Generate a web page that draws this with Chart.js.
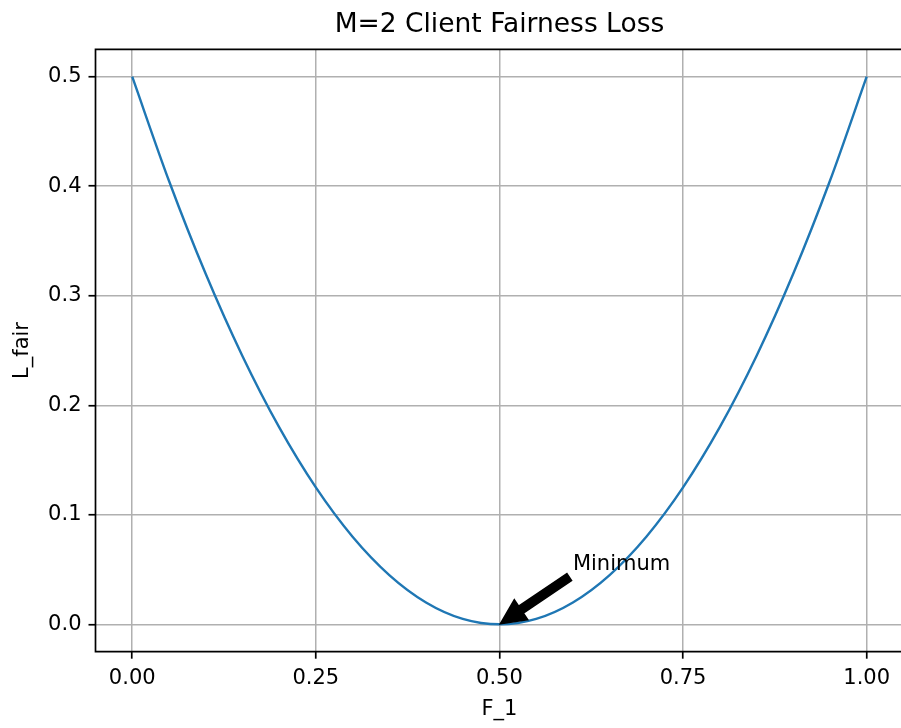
<!DOCTYPE html>
<html>
<head>
<meta charset="utf-8">
<title>M=2 Client Fairness Loss</title>
<script src="https://cdn.jsdelivr.net/npm/chart.js@4.4.1/dist/chart.umd.min.js"></script>
<style>
  html, body { margin: 0; padding: 0; background: #fff; overflow: hidden; }
  #wrap { width: 910px; height: 728px; }
</style>
</head>
<body>
<div id="wrap"><canvas id="fair-chart" width="910" height="728"></canvas></div>
<script>
// data
const fValues = [0, 0.05, 0.1, 0.15, 0.2, 0.25, 0.3, 0.35, 0.4, 0.45, 0.5,
                 0.55, 0.6, 0.65, 0.7, 0.75, 0.8, 0.85, 0.9, 0.95, 1.0];
const lossValues = [0.5, 0.405, 0.32, 0.245, 0.18, 0.125, 0.08, 0.045, 0.02, 0.005, 0,
                    0.005, 0.02, 0.045, 0.08, 0.125, 0.18, 0.245, 0.32, 0.405, 0.5];
const xTicks = [0, 0.25, 0.5, 0.75, 1.0];
const yTicks = [0, 0.1, 0.2, 0.3, 0.4, 0.5];
const minPoint = [0.5, 0];      // annotated point
const minLabelAt = [0.6, 0.05]; // where the "Minimum" text sits

Chart.defaults.font.family = 'DejaVu Sans';
Chart.defaults.color = '#000';

const GRID = '#b0b0b0';

/*==================== SPINES ====================*/
// left, top and bottom; the right one falls outside the 901px window
const spines = {
    id: 'spines',
    afterDatasetsDraw(chart) {
        const {ctx, chartArea: a} = chart;
        ctx.save();
        ctx.strokeStyle = '#000';
        ctx.lineWidth = 1.7;
        ctx.beginPath();
        ctx.moveTo(a.right + 1, a.top);
        ctx.lineTo(a.left, a.top);
        ctx.lineTo(a.left, a.bottom);
        ctx.lineTo(a.right + 1, a.bottom);
        ctx.stroke();
        ctx.restore();
    }
};

/*==================== ANNOTATION ====================*/
const annotate = {
    id: 'annotate',
    afterDatasetsDraw(chart) {
        const {ctx, scales: {x, y}} = chart;
        const tx = x.getPixelForValue(minLabelAt[0]);
        const ty = y.getPixelForValue(minLabelAt[1]);
        const px = x.getPixelForValue(minPoint[0]);
        const py = y.getPixelForValue(minPoint[1]);

        ctx.save();
        ctx.font = '21px "DejaVu Sans"';
        ctx.fillStyle = '#000';
        ctx.textAlign = 'left';
        ctx.textBaseline = 'alphabetic';
        ctx.fillText('Minimum', tx, ty);

        // arrow from bottom-left corner of the text box to the point
        const sx = tx, sy = ty + 5;
        const dx = px - sx, dy = py - sy;
        const ax = sx + dx * 0.05, ay = sy + dy * 0.05;
        const bx = px - dx * 0.012, by = py - dy * 0.012;
        const len = Math.hypot(bx - ax, by - ay);
        const ux = (bx - ax) / len, uy = (by - ay) / len;
        const nx = -uy, ny = ux;
        const tail = 4.2, headW = 12, headL = 25;
        const hx = bx - ux * headL, hy = by - uy * headL;

        ctx.beginPath();
        ctx.moveTo(ax + nx * tail, ay + ny * tail);
        ctx.lineTo(hx + nx * tail, hy + ny * tail);
        ctx.lineTo(hx + nx * headW, hy + ny * headW);
        ctx.lineTo(bx, by);
        ctx.lineTo(hx - nx * headW, hy - ny * headW);
        ctx.lineTo(hx - nx * tail, hy - ny * tail);
        ctx.lineTo(ax - nx * tail, ay - ny * tail);
        ctx.closePath();
        ctx.fill();
        ctx.lineWidth = 1.5;
        ctx.strokeStyle = '#000';
        ctx.stroke();
        ctx.restore();
    }
};

new Chart(document.getElementById('fair-chart'), {
    type: 'line',
    data: {
        datasets: [{
            data: fValues.map((v, i) => ({x: v, y: lossValues[i]})),
            borderColor: '#1f77b4',
            borderWidth: 2.4,
            pointRadius: 0,
            fill: false,
            cubicInterpolationMode: 'monotone'
        }]
    },
    options: {
        responsive: false,
        animation: false,
        events: [],
        layout: { padding: { left: 0, right: 6.6, top: 0, bottom: 0 } },
        plugins: {
            legend: { display: false },
            tooltip: { enabled: false },
            title: {
                display: true,
                text: 'M=2 Client Fairness Loss',
                fullSize: false,
                font: { size: 26.5, weight: 'normal' },
                color: '#000',
                padding: { top: 9.6, bottom: 7.9 }
            }
        },
        scales: {
            x: {
                type: 'linear',
                min: -0.05,
                max: 1.05,
                afterBuildTicks: s => { s.ticks = xTicks.map(v => ({value: v})); },
                afterFit: s => { s.height = 76.3; },
                ticks: {
                    callback: v => Number(v).toFixed(2),
                    font: { size: 21 },
                    color: '#000',
                    padding: 7,
                    maxRotation: 0
                },
                grid: {
                    color: GRID,
                    lineWidth: 1.5,
                    tickColor: '#000',
                    tickLength: 7,
                    tickWidth: 1.7
                },
                border: { display: false },
                title: {
                    display: true,
                    text: 'F_1',
                    font: { size: 21 },
                    color: '#000',
                    padding: { top: 0, bottom: 5.4 }
                }
            },
            y: {
                type: 'linear',
                min: -0.025,
                max: 0.525,
                afterBuildTicks: s => { s.ticks = yTicks.map(v => ({value: v})); },
                afterFit: s => { s.width = 95.5; },
                ticks: {
                    callback: v => Number(v).toFixed(1),
                    font: { size: 21 },
                    color: '#000',
                    padding: 7
                },
                grid: {
                    color: GRID,
                    lineWidth: 1.5,
                    tickColor: '#000',
                    tickLength: 7,
                    tickWidth: 1.7
                },
                border: { display: false },
                title: {
                    display: true,
                    text: 'L_fair',
                    font: { size: 21 },
                    color: '#000',
                    padding: { top: 10, bottom: 0 }
                }
            }
        }
    },
    plugins: [spines, annotate]
});
</script>
</body>
</html>
